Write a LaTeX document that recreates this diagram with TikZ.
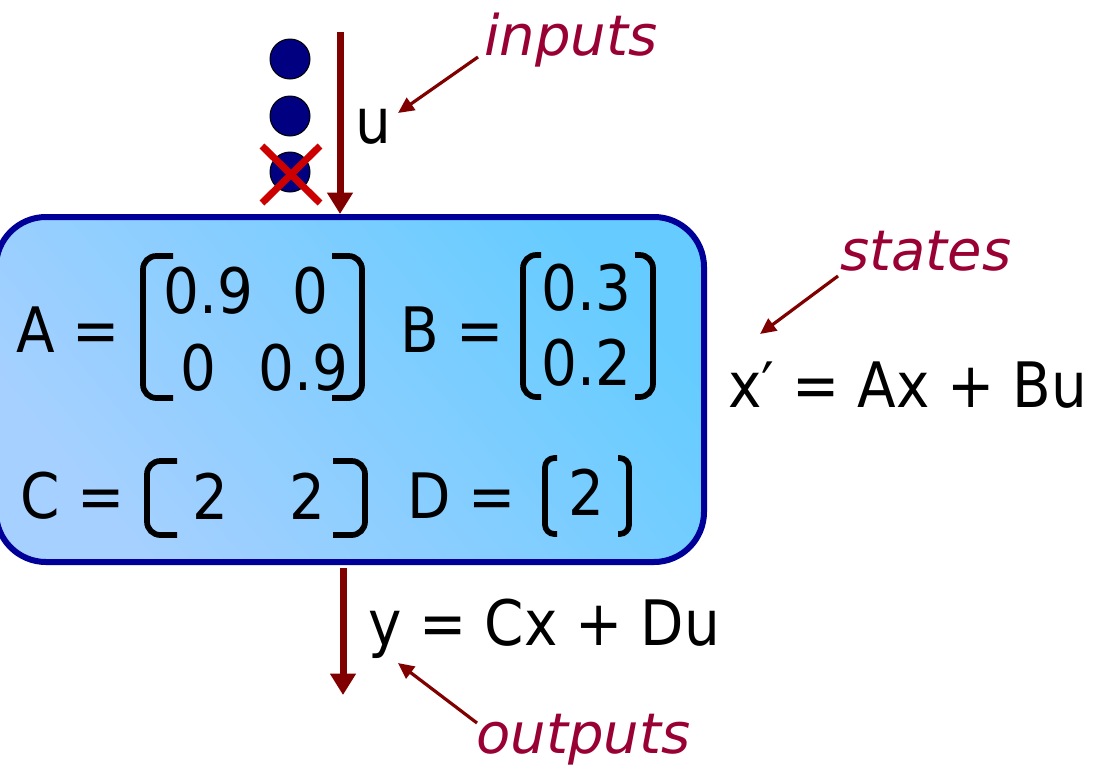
\documentclass[tikz,border=0pt]{standalone}
\usepackage{fontspec}
\setmainfont{DejaVu Sans}[FakeStretch=0.9]
\newfontfamily\lblfont{DejaVu Sans}
\usetikzlibrary{arrows.meta}
\definecolor{maroonc}{HTML}{800000}
\definecolor{lblc}{HTML}{990033}
\definecolor{boxborder}{HTML}{000099}
\definecolor{dotc}{HTML}{000080}
\definecolor{xred}{HTML}{CC0000}
\definecolor{shadeA}{HTML}{66CCFF}
\definecolor{shadeB}{HTML}{A6D0FF}
\tikzset{
  txt/.style={anchor=base west, inner sep=0pt, font=\fontsize{47}{50}\selectfont},
  lbl/.style={anchor=base west, inner sep=0pt, text=lblc, font=\lblfont\itshape\fontsize{42}{45}\selectfont},
  bigarrow/.style={draw=maroonc, line width=5.25pt, -{Triangle[length=16pt,width=18.5pt]}},
  smallarrow/.style={draw=maroonc, line width=2.4pt, -{Triangle[length=12pt,width=11pt]}},
  brk/.style={draw=black, line width=4.3pt, rounded corners=10pt},
  dot/.style={circle, fill=dotc, draw=black, line width=0.75pt, minimum size=30pt, inner sep=0pt},
}
\begin{document}
\begin{tikzpicture}[x=0.75pt,y=-0.75pt]
\useasboundingbox (0,0) rectangle (1095,768);
% system box
\node[draw=boxborder, line width=4.5pt, rounded corners=37.5pt,
      top color=shadeA, bottom color=shadeB, shading angle=-50,
      minimum width=531pt, minimum height=258.75pt, inner sep=0pt]
      (sys) at (350,389.5) {};
% inputs dots
\node[dot] (c1) at (290,59) {};
\node[dot] (c2) at (290,116) {};
\node[dot] (c3) at (290,172) {};
\draw[xred, line width=5.25pt] (262,146) -- (320,203);
\draw[xred, line width=5.25pt] (262,203) -- (320,146);
% u arrow
\coordinate (u0) at (340,32);
\draw[bigarrow] (u0) -- (u0 |- sys.north);
\node[txt] (u) at (355,143) {u};
% y arrow
\coordinate (y0) at (343,568);
\coordinate (y1) at (343,695);
\draw[bigarrow] (y0) -- (y1);
\node[txt] (yeq) at (368,645) {y = Cx + Du};
% state equation
\node[txt] (xeq) at (728,407) {x′ = Ax + Bu};
% labels
\node[lbl] (lin) at (484,55) {inputs};
\node[lbl] (lst) at (840,270) {states};
\node[lbl] (lout) at (476,753) {outputs};
\coordinate (inA) at (478,57);  \coordinate (inB) at (398,113);
\coordinate (stA) at (838,276); \coordinate (stB) at (760,334);
\coordinate (ouA) at (477,723); \coordinate (ouB) at (398,663);
\draw[smallarrow] (inA) -- (inB);
\draw[smallarrow] (stA) -- (stB);
\draw[smallarrow] (ouA) -- (ouB);
% matrices
\node[txt] (Alab) at (16,352) {A =};
\node[txt] (a11) at (163,313) {0.9};
\node[txt] (a12) at (292,313) {0};
\node[txt] (a21) at (180,390) {0};
\node[txt] (a22) at (258,390) {0.9};
\draw[brk] (173,256) -- (143,256) -- (143,398) -- (173,398);
\draw[brk] (332,256) -- (362,256) -- (362,398) -- (332,398);
\node[txt] (Blab) at (400,352) {B =};
\node[txt] (b1) at (541,310) {0.3};
\node[txt] (b2) at (541,385) {0.2};
\draw[brk] (541,255) -- (523,255) -- (523,397) -- (541,397);
\draw[brk] (635,255) -- (653,255) -- (653,397) -- (635,397);
\node[txt] (Clab) at (20,518) {C =};
\node[txt] (c11) at (192,519) {2};
\node[txt] (c12) at (289,519) {2};
\draw[brk] (177,461) -- (147,461) -- (147,535) -- (177,535);
\draw[brk] (333,461) -- (365,461) -- (365,535) -- (333,535);
\node[txt] (Dlab) at (407,518) {D =};
\node[txt] (d11) at (568,515) {2};
\draw[brk, rounded corners=7pt] (557,458) -- (545,458) -- (545,534) -- (557,534);
\draw[brk, rounded corners=7pt] (618,458) -- (629,458) -- (629,534) -- (618,534);
\end{tikzpicture}
\end{document}
